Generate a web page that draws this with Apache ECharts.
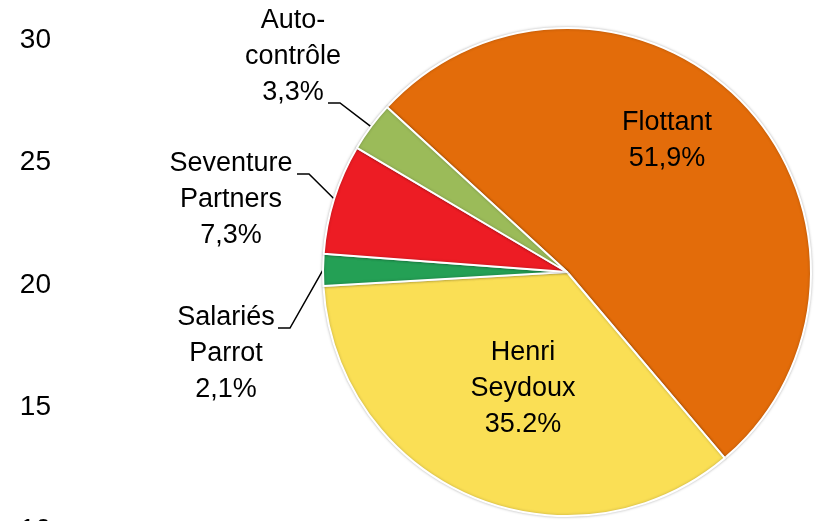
<!DOCTYPE html>
<html>
<head>
<meta charset="utf-8">
<script src="https://cdn.jsdelivr.net/npm/echarts@6/dist/echarts.min.js"></script>
<style>
    html, body { margin: 0; padding: 0; background: #fff; }
    #chart { width: 817px; height: 521px; }
</style>
</head>
<body>
<div id="chart"></div>
<script>
// répartition du capital (%)
var shareNames = ['Flottant', 'Henri\nSeydoux', 'Salariés\nParrot', 'Seventure\nPartners', 'Auto-\ncontrôle'];
var shareValues = [51.9, 35.2, 2.1, 7.3, 3.3];
var shareTexts = ['51,9%', '35.2%', '2,1%', '7,3%', '3,3%'];
var shareColors = ['#E36C0A', '#FADF55', '#24A055', '#ED1C24', '#9BBB59'];

// axe vertical resté à gauche
var axisMin = 10;
var axisMax = 30;
var axisStep = 5;

var labelFont = "'Liberation Sans', Arial, sans-serif";

// position des étiquettes (centre du bloc) et bout de la ligne de rappel
var labelSpots = [
    {x: 667, y: 141},
    {x: 523, y: 389},
    {x: 226, y: 354, lineEnd: [278, 328]},
    {x: 231, y: 200, lineEnd: [297, 174]},
    {x: 293, y: 57, lineEnd: [328, 103]}
];

var myChart = echarts.init(document.getElementById('chart'), null, {renderer: 'canvas'});

var pieData = shareNames.map(function (n, i) {
    var inside = i < 2;
    return {
        name: n,
        value: shareValues[i],
        itemStyle: {color: shareColors[i]},
        label: {position: inside ? 'inside' : 'outside'},
        labelLine: {show: !inside}
    };
});

var option = {
    animation: false,
    grid: {left: 60, top: 40, height: 490, right: 20, outerBoundsMode: 'none', containLabel: false},
    xAxis: {type: 'value', show: false},
    yAxis: {
        type: 'value',
        min: axisMin,
        max: axisMax,
        interval: axisStep,
        axisLine: {show: false},
        axisTick: {show: false},
        splitLine: {show: false},
        axisLabel: {
            margin: 9,
            color: '#000',
            fontSize: 28,
            fontFamily: labelFont
        }
    },
    series: [{
        type: 'pie',
        center: [567, 272],
        radius: 244,
        startAngle: 137.5,
        clockwise: true,
        avoidLabelOverlap: false,
        itemStyle: {
            borderColor: '#fff',
            borderWidth: 2,
            shadowColor: 'rgba(0,0,0,0.25)',
            shadowBlur: 3
        },
        label: {
            color: '#000',
            fontSize: 27,
            lineHeight: 36,
            fontFamily: labelFont,
            formatter: function (p) {
                return p.name + '\n' + shareTexts[p.dataIndex];
            }
        },
        labelLine: {
            length: 30,
            length2: 12,
            lineStyle: {color: '#000', width: 1.5}
        },
        labelLayout: function (params) {
            var s = labelSpots[params.dataIndex];
            var out = {x: s.x, y: s.y, align: 'center', verticalAlign: 'middle'};
            if (s.lineEnd && params.labelLinePoints) {
                var p0 = params.labelLinePoints[0];
                out.labelLinePoints = [
                    [p0[0], p0[1]],
                    [s.lineEnd[0] + 12, s.lineEnd[1]],
                    [s.lineEnd[0], s.lineEnd[1]]
                ];
            }
            return out;
        },
        data: pieData
    }]
};

myChart.setOption(option);
</script>
</body>
</html>
